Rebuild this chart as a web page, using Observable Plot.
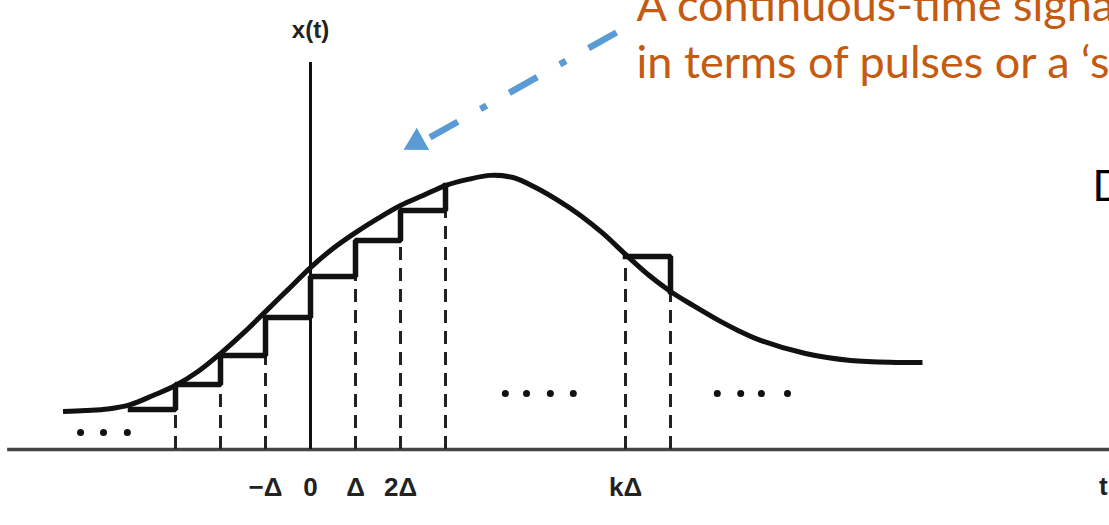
<!DOCTYPE html>
<html>
<head>
<meta charset="utf-8">
<script src="https://cdn.jsdelivr.net/npm/d3@7"></script>
<script src="https://cdn.jsdelivr.net/npm/@observablehq/plot@0.6"></script>
<style>
  html, body { margin: 0; padding: 0; background: #fff; overflow: hidden; }
  #chart svg { display: block; overflow: hidden; }
</style>
</head>
<body>
<div id="chart"></div>
<script>
// Time axis in units of the pulse width Δ; amplitude in arbitrary units.
// Smooth signal x(t)
const curveT = [-5.5, -5, -4.5, -4, -3.5, -3, -2.5, -2, -1.5, -1, -0.5, 0, 0.5, 1, 1.5, 2, 2.5, 3, 3.5, 4,
                4.5, 5, 5.5, 6, 6.5, 7, 7.5, 8, 8.5, 9, 9.5, 10, 11, 12, 13, 13.6];
const curveX = [0.141, 0.145, 0.151, 0.167, 0.201, 0.238, 0.290, 0.357, 0.432, 0.513, 0.595, 0.677, 0.748,
                0.807, 0.860, 0.908, 0.945, 0.982, 1.005, 1.020, 1.012, 0.975, 0.927, 0.871, 0.804, 0.726,
                0.651, 0.588, 0.536, 0.487, 0.443, 0.406, 0.357, 0.331, 0.324, 0.324];

// Staircase samples x(kΔ) held over [kΔ, (k+1)Δ)
const stepK = [-4, -3, -2, -1, 0, 1, 2, 3];
const stepX = [0.149, 0.242, 0.350, 0.491, 0.644, 0.778, 0.889, 0.982];
const pulseK = [7, 8];
const pulseX = [0.718, 0.588];

// Dashed drop lines at the pulse edges
const dropT = [-3, -2, -1, 1, 2, 3, 7, 8];
const dropTop = [0.138, 0.242, 0.350, 0.644, 0.778, 0.889, 0.700, 0.588];

// Ellipsis dots
const dotT = [-5.11, -4.6, -4.07, 4.33, 4.8, 5.33, 5.84, 9.04, 9.56, 10.02, 10.6];
const dotX = [0.063, 0.063, 0.063, 0.208, 0.208, 0.208, 0.208, 0.208, 0.208, 0.208, 0.208];

// Axes
const tickValues = [-1, 0, 1, 2, 7];
const tickLabels = ["\u2212\u0394", "0", "\u0394", "2\u0394", "k\u0394"];
const tExtent = [-6.73, 17.76];
const xAxisTop = 1.44;
const tLabelPos = [17.62, -0.171];
const xLabelPos = [0, 1.53];

// Annotation
const noteLines = ["A continuous-time signal", "in terms of pulses or a \u2018staircase\u2019"];
const noteT = [7.244, 7.244];
const noteY = [1.596, 1.384];
const sideLetterPos = [17.378, 0.9265];
const arrowFrom = [6.8, 1.5516];
const arrowTo = [2.533, 1.1498];
const arrowHead = [2.356, 1.1423];

const curve = curveT.map((t, i) => ({t, x: curveX[i]}));
const stairs = stepK.map((k, i) => ({t: k, x: stepX[i]}));
const pulse = pulseK.map((k, i) => ({t: k, x: pulseX[i]}));
const drops = dropT.map((t, i) => ({t, top: dropTop[i]}));
const dots = dotT.map((t, i) => ({t, x: dotX[i]}));
const notes = noteLines.map((s, i) => ({s, t: noteT[i], y: noteY[i]}));

const ink = "#111";
const labelFont = "Liberation Sans, Arial, sans-serif";
const slideFont = "Lato, sans-serif";

const chart = Plot.plot({
  width: 1109,
  height: 525,
  marginLeft: 40,
  marginRight: 34,
  marginTop: 19,
  marginBottom: 76,
  x: {domain: [-6, 17]},
  y: {domain: [0, 1.6], axis: null},
  marks: [
    // time axis line
    Plot.ruleY([0], {x1: tExtent[0], x2: tExtent[1], stroke: "#444", strokeWidth: 3.5}),
    // amplitude axis line
    Plot.ruleX([0], {y1: 0, y2: xAxisTop, stroke: ink, strokeWidth: 3}),
    // drop lines
    Plot.ruleX(drops, {x: "t", y1: 0, y2: "top", stroke: "#222", strokeWidth: 3, strokeDasharray: "13,8"}),
    // staircase approximation
    Plot.line(stairs, {x: "t", y: "x", curve: "step-after", stroke: ink, strokeWidth: 5.5, strokeLinejoin: "miter", strokeLinecap: "square"}),
    Plot.line(pulse, {x: "t", y: "x", curve: "step-after", stroke: ink, strokeWidth: 5.5, strokeLinejoin: "miter", strokeLinecap: "square"}),
    // continuous signal
    Plot.line(curve, {x: "t", y: "x", curve: "catmull-rom", stroke: ink, strokeWidth: 5, strokeLinecap: "butt"}),
    // ellipses
    Plot.dot(dots, {x: "t", y: "x", r: 3.5, fill: ink, stroke: null}),
    // tick labels
    Plot.axisX({
      ticks: tickValues,
      tickFormat: (d) => tickLabels[tickValues.indexOf(d)],
      tickSize: 0,
      tickPadding: 28,
      fontSize: 26,
      fontWeight: "bold",
      fontFamily: labelFont,
      fill: "#222",
      label: null
    }),
    Plot.text(["t"], {x: tLabelPos[0], y: tLabelPos[1], text: d => d, lineAnchor: "bottom", fontSize: 26, fontWeight: "bold", fontFamily: labelFont, fill: "#222"}),
    Plot.text(["x(t)"], {x: xLabelPos[0], y: xLabelPos[1], text: d => d, lineAnchor: "bottom", fontSize: 24, fontWeight: "bold", fontFamily: labelFont, fill: "#222"}),
    // annotation
    Plot.link([0], {x1: arrowFrom[0], y1: arrowFrom[1], x2: arrowTo[0], y2: arrowTo[1], stroke: "#5B9BD5", strokeWidth: 6.5, strokeDasharray: "32,26,7,26", strokeLinecap: "butt"}),
    Plot.dot([0], {x: arrowHead[0], y: arrowHead[1], symbol: "triangle", r: 9.5, rotate: -119, fill: "#5B9BD5", stroke: null}),
    Plot.text(notes, {x: "t", y: "y", text: "s", textAnchor: "start", lineAnchor: "bottom", fontSize: 45, fontFamily: slideFont, fill: "#C55A11"}),
    Plot.text(["D"], {x: sideLetterPos[0], y: sideLetterPos[1], text: d => d, textAnchor: "start", lineAnchor: "bottom", fontSize: 42, fontFamily: slideFont, fill: "#000"})
  ]
});
document.getElementById("chart").append(chart);
</script>
</body>
</html>
